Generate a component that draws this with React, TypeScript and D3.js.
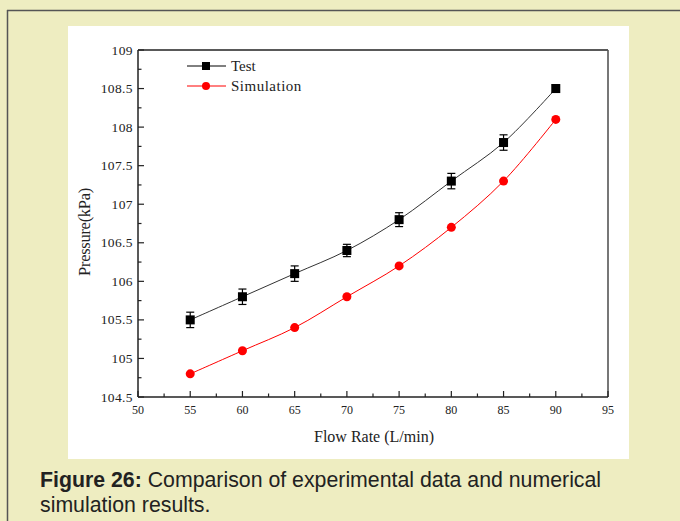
import React from "react";
import * as d3 from "d3";

const flowRates = [55, 60, 65, 70, 75, 80, 85, 90];
const testValues = [105.5, 105.8, 106.1, 106.4, 106.8, 107.3, 107.8, 108.5];
const testErrors = [0.1, 0.1, 0.1, 0.08, 0.09, 0.1, 0.1, 0.05];
const simValues = [104.8, 105.1, 105.4, 105.8, 106.2, 106.7, 107.3, 108.1];
const xTicks = [50, 55, 60, 65, 70, 75, 80, 85, 90, 95];
const yTicks = [104.5, 105, 105.5, 106, 106.5, 107, 107.5, 108, 108.5, 109];
const yTickLabels = ["104.5", "105", "105.5", "106", "106.5", "107", "107.5", "108", "108.5", "109"];

export default function App() {
  const W = 680, H = 521;
  const left = 138, right = 608, top = 50, bottom = 397;
  const x = d3.scaleLinear().domain([50, 95]).range([left, right]);
  const y = d3.scaleLinear().domain([104.5, 109]).range([bottom, top]);
  const line = d3.line<number>().x((_, i) => x(flowRates[i])).y((d) => y(d)).curve(d3.curveCatmullRom.alpha(0.5));
  const xMinor = d3.range(52.5, 95, 5);
  const yMinor = d3.range(104.75, 109, 0.5);
  const serif = "'Liberation Serif', 'Times New Roman', serif";
  const sans = "'Liberation Sans', Arial, sans-serif";
  return (
    <svg width={W} height={H} style={{ position: "absolute", left: 0, top: 0 }}>
      <rect x={0} y={0} width={W} height={H} fill="#EEEDC1" />
      <line x1={7.5} y1={10} x2={7.5} y2={H} stroke="#555" strokeWidth={1.5} />
      <line x1={7} y1={10.5} x2={W} y2={10.5} stroke="#555" strokeWidth={1.5} />
      <rect x={68} y={26} width={561} height={433} fill="#fff" />
      {/* frame */}
      <line x1={left} y1={top} x2={right} y2={top} stroke="#222" strokeWidth={1.3} />
      <line x1={right} y1={top} x2={right} y2={bottom} stroke="#555" strokeWidth={1.6} />
      <line x1={left} y1={top} x2={left} y2={bottom} stroke="#222" strokeWidth={1.5} />
      <line x1={left} y1={bottom} x2={right} y2={bottom} stroke="#222" strokeWidth={1.5} />
      {/* x ticks */}
      {xTicks.map((t) => (
        <g key={"xt" + t}>
          <line x1={x(t)} x2={x(t)} y1={bottom} y2={bottom - 6} stroke="#222" strokeWidth={1.2} />
          <text x={x(t)} y={bottom + 17} textAnchor="middle" fontFamily={serif} fontSize={12} fill="#222">{t}</text>
        </g>
      ))}
      {xMinor.map((t) => (
        <line key={"xm" + t} x1={x(t)} x2={x(t)} y1={bottom} y2={bottom - 3.5} stroke="#222" strokeWidth={1.2} />
      ))}
      {yTicks.map((t, i) => (
        <g key={"yt" + t}>
          <line x1={left} x2={left + 6} y1={y(t)} y2={y(t)} stroke="#222" strokeWidth={1.2} />
          <text x={left - 5} y={y(t) + 4.5} textAnchor="end" fontFamily={serif} fontSize={13.5} fill="#222" letterSpacing={0.4}>{yTickLabels[i]}</text>
        </g>
      ))}
      {yMinor.map((t) => (
        <line key={"ym" + t} x1={left} x2={left + 3.5} y1={y(t)} y2={y(t)} stroke="#222" strokeWidth={1.2} />
      ))}
      {/* axis titles */}
      <text x={(left + right) / 2 + 1} y={442} textAnchor="middle" fontFamily={serif} fontSize={16} fill="#222">Flow Rate (L/min)</text>
      <text transform="translate(90,232) rotate(-90)" textAnchor="middle" fontFamily={serif} fontSize={16.5} fill="#222" letterSpacing={-0.3}>Pressure(kPa)</text>
      {/* series */}
      <path d={line(testValues) || ""} fill="none" stroke="#333" strokeWidth={1} />
      <path d={line(simValues) || ""} fill="none" stroke="#ff0000" strokeWidth={1} />
      {testValues.map((v, i) => {
        const cx = x(flowRates[i]);
        const e = testErrors[i];
        return (
          <g key={"t" + i}>
            <line x1={cx} x2={cx} y1={y(v + e)} y2={y(v - e)} stroke="#000" strokeWidth={1.2} />
            <line x1={cx - 4} x2={cx + 4} y1={y(v + e)} y2={y(v + e)} stroke="#000" strokeWidth={1.2} />
            <line x1={cx - 4} x2={cx + 4} y1={y(v - e)} y2={y(v - e)} stroke="#000" strokeWidth={1.2} />
            <rect x={cx - 4.5} y={y(v) - 4.5} width={9} height={9} fill="#000" />
          </g>
        );
      })}
      {simValues.map((v, i) => (
        <circle key={"s" + i} cx={x(flowRates[i])} cy={y(v)} r={4.5} fill="#ff0000" />
      ))}
      {/* legend */}
      <line x1={187} x2={226} y1={66} y2={66} stroke="#000" strokeWidth={1} />
      <rect x={202} y={62} width={8} height={8} fill="#000" />
      <text x={231} y={71} fontFamily={serif} fontSize={15} fill="#222">Test</text>
      <line x1={187} x2={226} y1={86} y2={86} stroke="#ff0000" strokeWidth={1} />
      <circle cx={206} cy={86} r={4} fill="#ff0000" />
      <text x={231} y={91} fontFamily={serif} fontSize={15} fill="#222" letterSpacing={0.5}>Simulation</text>
      {/* caption */}
      <text x={40} y={487} fontFamily={sans} fontSize={21.3} fill="#222">
        <tspan fontWeight="bold">Figure 26:</tspan> Comparison of experimental data and numerical
      </text>
      <text x={40} y={512} fontFamily={sans} fontSize={21.3} fill="#222">simulation results.</text>
    </svg>
  );
}
